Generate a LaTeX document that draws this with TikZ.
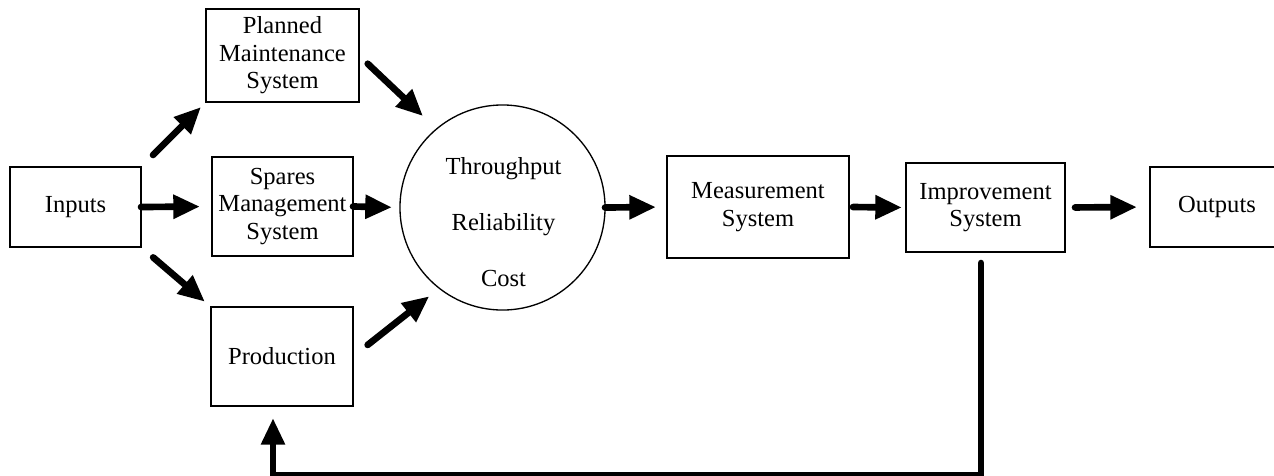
\documentclass[tikz,border=0pt]{standalone}
\usepackage{fontspec}
\setmainfont{Liberation Serif}
\usetikzlibrary{arrows.meta}

\begin{document}
\begin{tikzpicture}[x=0.75pt,y=-0.75pt,
    every node/.style={font=\fontsize{18.4pt}{20.6pt}\selectfont},
    box/.style={draw,line width=1.2pt,inner sep=0pt,outer sep=0pt,align=center},
    flow/.style={line width=5pt,line cap=round,-{Triangle[length=20pt,width=17pt]}}]
    \useasboundingbox (0,0) rectangle (1274,475);
    \node[box,minimum width=98.3pt,minimum height=60pt] (inputs) at (75.5,207) {Inputs};
    \node[box,minimum width=114.8pt,minimum height=69.8pt] (planned) at (282.5,55.5) {Planned\\Maintenance\\System};
    \node[box,minimum width=105.8pt,minimum height=74.3pt] (spares) at (282.5,206.5) {Spares\\Management\\System};
    \node[box,minimum width=106.5pt,minimum height=74.3pt] (production) at (282,356.5) {Production};
    \node[circle,draw,line width=1pt,minimum size=153.8pt,inner sep=0pt,outer sep=0pt] (perf) at (502.5,207.5) {};
    \node[align=center] (perftext) at (503.5,222) {Throughput\\[21.4pt]Reliability\\[21.4pt]Cost};
    \node[box,minimum width=136.5pt,minimum height=76.5pt] (meas) at (758,207) {Measurement\\System};
    \node[box,minimum width=119.3pt,minimum height=66.8pt] (impr) at (985.5,207.5) {Improvement\\System};
    \node[box,minimum width=100.5pt,minimum height=60pt] (outputs) at (1217,207) {Outputs};
    \draw[flow,shorten >=9pt] (inputs.east) -- (spares.west);
    \draw[flow,shorten <=12.75pt,shorten >=5.25pt] (inputs.north east) -- (planned.south west);
    \draw[flow,shorten <=12pt,shorten >=6pt] (inputs.south east) -- (production.north west);
    \draw[flow,shorten <=9pt,shorten >=14pt] (planned.east) -- (perf.130);
    \draw[flow,shorten >=6pt] (spares.east) -- (perf.west);
    \draw[flow,shorten <=14pt,shorten >=9.6pt] (production.east) -- (perf.232);
    \draw[flow,shorten >=8.25pt] (perf.east) -- (meas.west);
    \draw[flow,shorten <=3pt,shorten >=3pt] (meas.east) -- (impr.west);
    \draw[flow,shorten <=7.5pt,shorten >=9.75pt] (impr.east) -- (outputs.west);
    % feedback loop
    \coordinate (fbtop) at ([xshift=-3.4pt]impr.south);
    \coordinate (fbend) at ([xshift=-6.75pt]production.south);
    \coordinate (fbbase) at (0,475);
    \draw[flow,shorten <=8.25pt,shorten >=9pt] (fbtop) -- (fbtop |- fbbase) -| (fbend);
\end{tikzpicture}
\end{document}
